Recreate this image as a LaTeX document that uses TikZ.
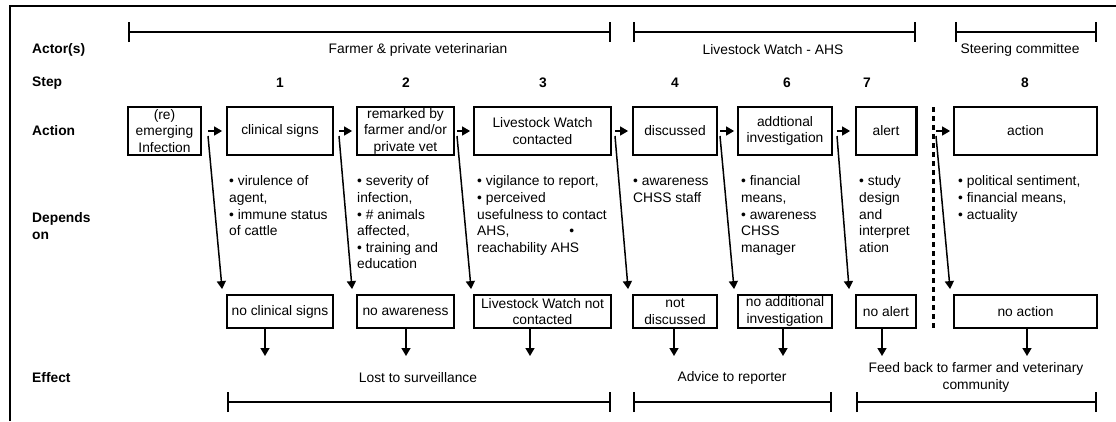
\documentclass[tikz,border=0pt]{standalone}
\usepackage{fontspec}
\setmainfont{Liberation Sans}
\usetikzlibrary{arrows.meta}

\begin{document}
\begin{tikzpicture}[x=1pt,y=-1pt,
  every node/.style={font=\fontsize{13.8}{16.5}\selectfont, inner sep=0pt},
  box/.style={draw, line width=1.8pt, align=center},
  actbox/.style={box, minimum height=48pt},
  effbox/.style={box, minimum height=33pt},
  rowlbl/.style={font=\fontsize{13.8}{16.5}\selectfont\bfseries, anchor=west, align=left},
  stepno/.style={font=\fontsize{13.8}{16.5}\selectfont\bfseries},
  dep/.style={anchor=north west, align=left, font=\fontsize{13.8}{16.6}\selectfont},
  arr/.style={line width=1.5pt, -{Triangle[length=8pt,width=9pt]}},
  brk/.style={line width=1.8pt, {Bar[width=20pt]}-{Bar[width=20pt]}},
  sep/.style={line width=3pt, dash pattern=on 5pt off 4pt}
]
\useasboundingbox (0,0) rectangle (1116,421);

% outer frame
\draw[line width=2pt] (10,421) -- (10,6) -- (1116,6);

% row labels
\node[rowlbl] (rActor)  at (32,50)  {Actor(s)};
\node[rowlbl] (rStep)   at (32,83)  {Step};
\node[rowlbl] (rAction) at (32,131) {Action};
\node[rowlbl] (rDep)    at (32,226) {Depends\\on};
\node[rowlbl] (rEff)    at (32,378) {Effect};

% actor brackets and labels
\coordinate (a1l) at (128,32);  \coordinate (a1r) at (611,32);
\coordinate (a2l) at (633,32);  \coordinate (a2r) at (916,32);
\coordinate (a3l) at (955,32);  \coordinate (a3r) at (1097,32);
\draw[brk] (a1l) -- (a1r);
\draw[brk] (a2l) -- (a2r);
\draw[brk] (a3l) -- (a3r);
\node (act1) at (418,50)  {Farmer \& private veterinarian};
\node (act2) at (773,50)  {Livestock Watch - AHS};
\node (act3) at (1020,50) {Steering committee};

% step numbers
\node[stepno] (s1) at (280,83)  {1};
\node[stepno] (s2) at (406,83)  {2};
\node[stepno] (s3) at (543,83)  {3};
\node[stepno] (s4) at (675,83)  {4};
\node[stepno] (s6) at (787,83)  {6};
\node[stepno] (s7) at (867,83)  {7};
\node[stepno] (s8) at (1025,83) {8};

% action boxes
\node[actbox, minimum width=73pt]  (inf) at (164.5,131) {(re)\\emerging\\Infection};
\node[actbox, minimum width=106pt] (cs)  at (280,131)   {clinical signs};
\node[actbox, minimum width=97pt]  (rem) at (405.5,131) {remarked by\\farmer and/or\\private vet};
\node[actbox, minimum width=137pt] (lwc) at (542.5,131) {Livestock Watch\\contacted};
\node[actbox, minimum width=84pt]  (dis) at (675,131)   {discussed};
\node[actbox, minimum width=94pt]  (add) at (785,131)   {addtional\\investigation};
\node[actbox, minimum width=60pt]  (alr) at (886,131)   {alert};
\node[actbox, minimum width=143pt] (act) at (1025.5,131) {action};
\draw[line width=3.2pt] ([xshift=-0.7pt]alr.north east) -- ([xshift=-0.7pt]alr.south east);

% effect boxes
\node[effbox, minimum width=106pt] (ncs) at (280,311.5)   {no clinical signs};
\node[effbox, minimum width=97pt]  (naw) at (405.5,311.5) {no awareness};
\node[effbox, minimum width=137pt] (nlw) at (542.5,311.5) {Livestock Watch not\\contacted};
\node[effbox, minimum width=84pt]  (ndi) at (675,311.5)   {not\\discussed};
\node[effbox, minimum width=94pt]  (nad) at (785,311.5)   {no additional\\investigation};
\node[effbox, minimum width=60pt]  (nal) at (886,311.5)   {no alert};
\node[effbox, minimum width=143pt] (nac) at (1025.5,311.5) {no action};

% separator before the steering committee step
\coordinate (sepTop) at (933,107);
\coordinate (sepBot) at (933,330);
\draw[sep] (sepTop) -- (sepBot);

% start points of the step connectors
\coordinate (o1) at (208,136);
\coordinate (o2) at (339,136);
\coordinate (o3) at (457,136);
\coordinate (o4) at (615,136);
\coordinate (o5) at (720,136);
\coordinate (o6) at (837,136);
\coordinate (o7) at (936,136);

% horizontal step arrows
\draw[arr] (o1 |- inf.east) -- ([xshift=-4pt]cs.west);
\draw[arr] (o2 |- cs.east)  -- ([xshift=-4pt]rem.west);
\draw[arr] (o3 |- rem.east) -- ([xshift=-3pt]lwc.west);
\draw[arr] (o4 |- lwc.east) -- ([xshift=-4pt]dis.west);
\draw[arr] (o5 |- dis.east) -- ([xshift=-3pt]add.west);
\draw[arr] (o6 |- add.east) -- ([xshift=-5pt]alr.west);
\draw[arr] (o7 |- alr.east) -- ([xshift=-3pt]act.west);

% diagonal arrows to the failure outcomes
\draw[arr] (o1) -- ([shift={(-4,-5)}]ncs.north west);
\draw[arr] (o2) -- ([shift={(-4,-5)}]naw.north west);
\draw[arr] (o3) -- ([shift={(-2,-5)}]nlw.north west);
\draw[arr] (o4) -- ([shift={(-4,-5)}]ndi.north west);
\draw[arr] (o5) -- ([shift={(-3,-5)}]nad.north west);
\draw[arr] (o6) -- ([shift={(-6,-5)}]nal.north west);
\draw[arr] (o7) -- ([shift={(-3,-5)}]nac.north west);

% dependencies
\node[dep] (d1) at (229,174) {\strut• virulence of\\agent,\\• immune status\\of cattle};
\node[dep] (d2) at (357,174) {\strut• severity of\\infection,\\• \# animals\\affected,\\• training and\\education};
\node[dep] (d3) at (477,174) {\strut• vigilance to report,\\• perceived\\usefulness to contact\\AHS,\hspace{60pt}•\\reachability AHS};
\node[dep] (d4) at (633,174) {\strut• awareness\\CHSS staff};
\node[dep] (d5) at (741,174) {\strut• financial\\means,\\• awareness\\CHSS\\manager};
\node[dep] (d6) at (859,174) {\strut• study\\design\\and\\interpret\\ation};
\node[dep] (d7) at (958,174) {\strut• political sentiment,\\• financial means,\\• actuality};

% arrows from outcomes to effects
\coordinate (e1) at (265,356);
\coordinate (e2) at (406,356);
\coordinate (e3) at (530,356);
\coordinate (e4) at (674,356);
\coordinate (e5) at (783,356);
\coordinate (e6) at (882,356);
\coordinate (e7) at (1027,356);
\draw[arr] (ncs.south -| e1) -- (e1);
\draw[arr] (naw.south -| e2) -- (e2);
\draw[arr] (nlw.south -| e3) -- (e3);
\draw[arr] (ndi.south -| e4) -- (e4);
\draw[arr] (nad.south -| e5) -- (e5);
\draw[arr] (nal.south -| e6) -- (e6);
\draw[arr] (nac.south -| e7) -- (e7);

% effect labels and brackets
\node (eff1) at (418,378) {Lost to surveillance};
\node (eff2) at (732,378) {Advice to reporter};
\node[align=center] (eff3) at (976,377.5) {Feed back to farmer and veterinary\\community};
\coordinate (b1l) at (227,402);  \coordinate (b1r) at (611,402);
\coordinate (b2l) at (633,402);  \coordinate (b2r) at (832,402);
\coordinate (b3l) at (856,402);  \coordinate (b3r) at (1097,402);
\draw[brk] (b1l) -- (b1r);
\draw[brk] (b2l) -- (b2r);
\draw[brk] (b3l) -- (b3r);
\end{tikzpicture}
\end{document}
